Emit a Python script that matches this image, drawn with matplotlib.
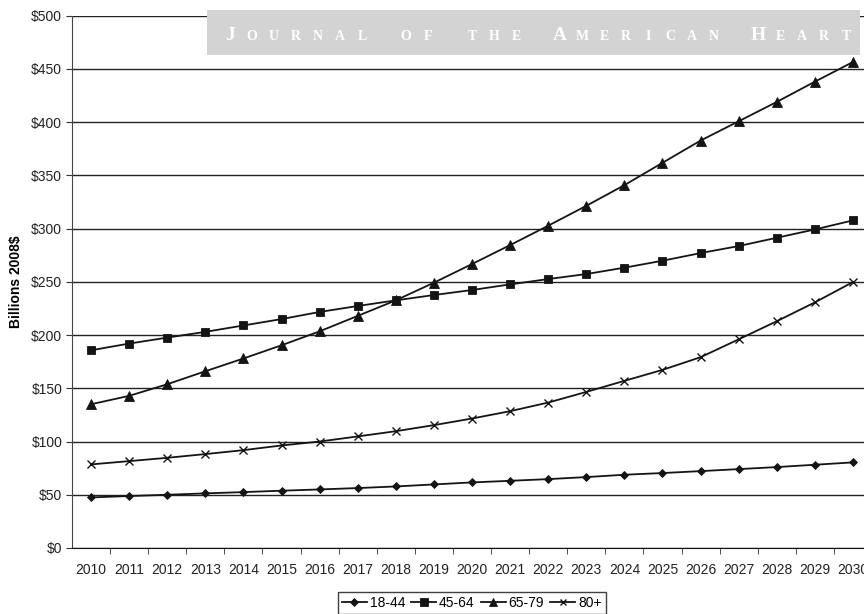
import matplotlib
matplotlib.use("Agg")
import matplotlib.pyplot as plt
from matplotlib.patches import Rectangle
from matplotlib.ticker import FixedLocator, FuncFormatter

plt.rcParams['font.family'] = ['Liberation Sans', 'DejaVu Sans']

years = [str(y) for y in range(2010, 2031)]
age_18_44 = [47.5, 48.8, 50.0, 51.3, 52.5, 53.8, 55.0, 56.3, 57.8, 59.7, 61.6,
             63.1, 64.7, 66.6, 68.8, 70.4, 72.2, 74.1, 76.0, 78.2, 80.4]
age_45_64 = [185.7, 192.0, 197.6, 203.0, 209.0, 215.0, 221.7, 227.3, 232.6, 237.6, 242.3,
             247.6, 252.6, 257.3, 263.3, 269.8, 277.0, 283.6, 291.4, 299.2, 307.7]
age_65_79 = [135.0, 142.9, 153.8, 166.0, 178.0, 190.4, 203.5, 218.0, 232.6, 249.2, 266.7,
             284.5, 302.7, 321.4, 340.8, 361.8, 382.7, 400.8, 419.0, 438.0, 456.5]
age_80_up = [78.5, 81.6, 84.7, 88.2, 91.9, 96.3, 100.0, 104.8, 109.7, 115.4, 121.6,
             128.5, 136.6, 146.6, 157.0, 167.3, 179.2, 196.0, 213.0, 230.7, 249.8]

series = [('18-44', age_18_44, 'D', 4.5),
          ('45-64', age_45_64, 's', 6),
          ('65-79', age_65_79, '^', 6.5),
          ('80+', age_80_up, 'x', 5.5)]

W, H = 864, 614
fig = plt.figure(figsize=(W / 100, H / 100), dpi=100)
ax = fig.add_axes([0.0833, 0.1075, 0.926, 0.867])

x = list(range(len(years)))
for name, vals, mk, ms in series:
    ax.plot(x, vals, color='#141414', lw=1.3, marker=mk, markersize=ms,
            markeredgewidth=1.0 if mk == 'x' else 0.6, label=name, zorder=3)

ax.set_xlim(-0.5, len(years) - 0.5)
ax.set_ylim(0, 500)
ax.yaxis.set_major_locator(FixedLocator(range(0, 501, 50)))
ax.yaxis.set_major_formatter(FuncFormatter(lambda v, p: '$%d' % v))
ax.grid(axis='y', color='#222222', lw=1.0)
ax.set_axisbelow(True)

ax.set_xticks(x)
ax.set_xticklabels(years)
ax.xaxis.set_minor_locator(FixedLocator([i + 0.5 for i in x]))
ax.tick_params(axis='x', which='major', length=0, pad=11, labelsize=10, colors='#222222')
ax.tick_params(axis='x', which='minor', length=4, color='#333333', direction='out')
ax.tick_params(axis='y', length=4, direction='out', labelsize=10, pad=3,
               color='#333333', labelcolor='#222222')

for s in ['top', 'right']:
    ax.spines[s].set_visible(False)
ax.spines['left'].set_color('#444444')
ax.spines['bottom'].set_color('#111111')

ax.set_ylabel('Billions 2008$', fontsize=10, fontweight='bold', labelpad=6)

# legend below the axis, its lower border runs off the page like the source
leg = fig.legend(loc='upper center', bbox_to_anchor=(0.546, 1 - 592 / H), ncol=4,
                 fontsize=10, frameon=True, fancybox=False, edgecolor='#111111',
                 handlelength=1.8, handletextpad=0.2, columnspacing=0.45,
                 borderpad=0.3, borderaxespad=0, markerscale=0.9)
leg.get_frame().set_linewidth(1.0)

# watermark banner at top
fig.patches.append(Rectangle((207 / W, 1 - 55 / H), (860 - 207) / W, 45 / H,
                             transform=fig.transFigure, facecolor='#d3d3d3',
                             edgecolor='none', zorder=0.5))
banner = 'JOURNAL OF THE AMERICAN HEART'
big = {0, 15, 24}  # J, A, H drawn as full capitals, the rest as small caps
for i, ch in enumerate(banner):
    if ch == ' ':
        continue
    fig.text((230 + i * 22) / W, 1 - 40 / H, ch, color='white',
             fontsize=14 if i in big else 10, fontweight='bold',
             family='Liberation Serif', ha='center', va='baseline', zorder=1)

fig.savefig('out.png', dpi=100)
